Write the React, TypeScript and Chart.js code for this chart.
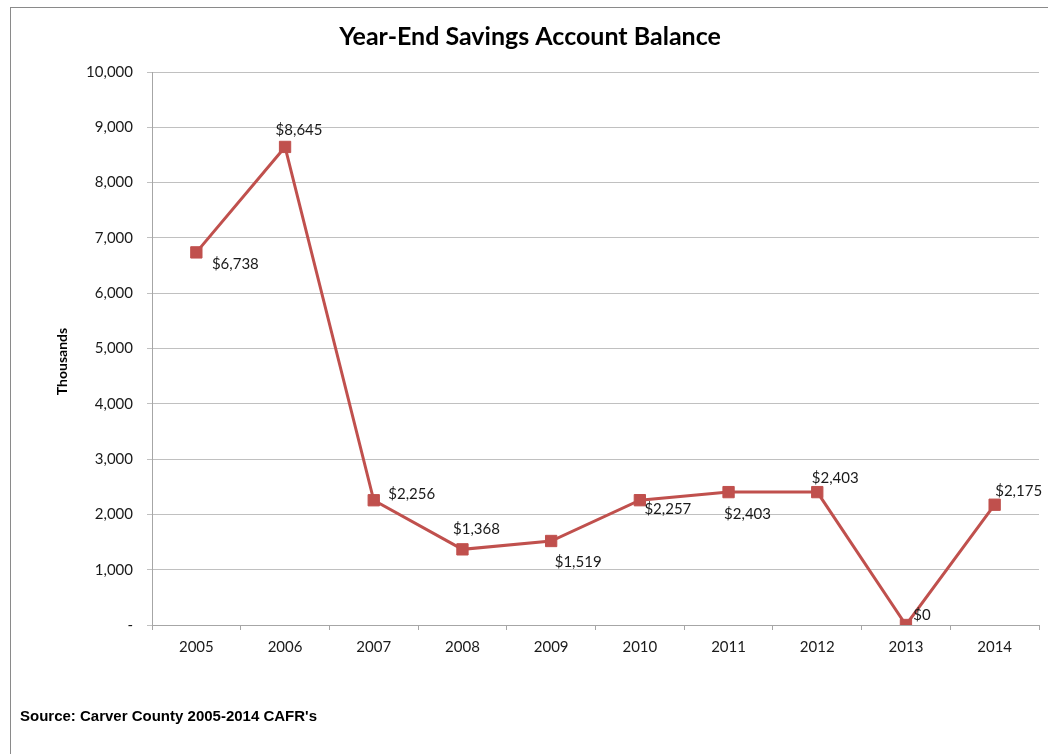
import React, { useEffect, useRef } from "react";
import { Chart, registerables } from "chart.js";

Chart.register(...registerables);

const years = ["2005", "2006", "2007", "2008", "2009", "2010", "2011", "2012", "2013", "2014"];
const balances = [6738, 8645, 2256, 1368, 1519, 2257, 2403, 2403, 0, 2175];
// label placement relative to each point (dx, dy), in pixels
const labelDx = [39, 14, 38, 14, 27, 28, 19, 18, 16, 24];
const labelDy = [12, -17, -6, -20, 21, 9, 22, -14, -10, -14];

const titleText = "Year-End Savings Account Balance";
const yAxisTitle = "Thousands";
const sourceText = "Source: Carver County 2005-2014 CAFR's";

const RED = "#C0504D";
const FONT = "Lato, 'Open Sans', sans-serif";

const labelPlugin = {
  id: "pointLabels",
  afterDatasetsDraw(chart: any) {
    const meta = chart.getDatasetMeta(0);
    const ctx = chart.ctx;
    ctx.save();
    ctx.font = `15px ${FONT}`;
    ctx.fillStyle = "#1a1a1a";
    ctx.textAlign = "center";
    ctx.textBaseline = "middle";
    meta.data.forEach((pt: any, i: number) => {
      const v = balances[i];
      ctx.fillText("$" + v.toLocaleString("en-US"), pt.x + labelDx[i], pt.y + labelDy[i]);
    });
    ctx.restore();
  },
};

const frameAndAxisTitlePlugin = {
  id: "frame",
  beforeDraw(chart: any) {
    const ctx = chart.ctx;
    ctx.save();
    ctx.fillStyle = "#ffffff";
    ctx.fillRect(0, 0, chart.width, chart.height);
    ctx.strokeStyle = "#8a8a8a";
    ctx.lineWidth = 1;
    ctx.strokeRect(10.5, 7.5, 1200, 900);
    ctx.restore();
  },
  afterDraw(chart: any) {
    const ctx = chart.ctx;
    const area = chart.chartArea;
    ctx.save();
    ctx.translate(62, (area.top + area.bottom) / 2 + 13);
    ctx.rotate(-Math.PI / 2);
    ctx.font = `bold 14px ${FONT}`;
    ctx.fillStyle = "#000";
    ctx.textAlign = "center";
    ctx.textBaseline = "middle";
    ctx.fillText(yAxisTitle, 0, 0);
    ctx.restore();
  },
};

export default function App() {
  const ref = useRef<HTMLCanvasElement | null>(null);

  useEffect(() => {
    if (!ref.current) return;
    const chart = new Chart(ref.current, {
      type: "line",
      data: {
        labels: years,
        datasets: [
          {
            data: balances,
            borderColor: RED,
            backgroundColor: RED,
            borderWidth: 3,
            pointStyle: "rect",
            pointRadius: 8,
            pointBackgroundColor: RED,
            pointBorderColor: RED,
            pointBorderWidth: 1,
            tension: 0,
          },
        ],
      },
      options: {
        responsive: false,
        animation: false,
        devicePixelRatio: 1,
        layout: { padding: { left: 20, right: 8, top: 0, bottom: 0 } },
        plugins: {
          legend: { display: false },
          tooltip: { enabled: false },
          title: {
            display: true,
            text: titleText,
            color: "#000",
            font: { family: FONT, size: 25, weight: "bold", lineHeight: 1.2 },
            padding: { top: 22, bottom: 20 },
          },
          subtitle: {
            display: true,
            position: "bottom",
            align: "start",
            text: sourceText,
            color: "#000",
            font: { family: "'Liberation Sans', Arial, sans-serif", size: 15, weight: "bold", lineHeight: 1.2 },
            padding: { top: 10, bottom: 28 },
          },
        },
        scales: {
          x: {
            type: "category",
            offset: true,
            grid: {
              offset: true,
              drawOnChartArea: false,
              drawTicks: true,
              tickLength: 5,
              color: "#a6a6a6",
            },
            border: { display: true, color: "#a6a6a6" },
            ticks: { color: "#1a1a1a", font: { family: FONT, size: 15 }, padding: 8, maxRotation: 0 },
            afterFit(scale: any) {
              scale.height = 73;
            },
          },
          y: {
            min: 0,
            max: 10000,
            grid: { color: "#c0c0c0", tickLength: 5, drawTicks: true },
            border: { display: true, color: "#a6a6a6" },
            ticks: {
              stepSize: 1000,
              color: "#1a1a1a",
              padding: 14,
              font: { family: FONT, size: 15 },
              callback: (v: any) => (Number(v) === 0 ? "-" : Number(v).toLocaleString("en-US")),
            },
            afterFit(scale: any) {
              scale.width = 132;
            },
          },
        },
      },
      plugins: [frameAndAxisTitlePlugin, labelPlugin],
    });
    return () => chart.destroy();
  }, []);

  return (
    <div style={{ position: "absolute", left: 0, top: 0, width: 1048, height: 754, background: "#fff" }}>
      <canvas ref={ref} width={1048} height={754} style={{ width: 1048, height: 754, display: "block" }} />
    </div>
  );
}
